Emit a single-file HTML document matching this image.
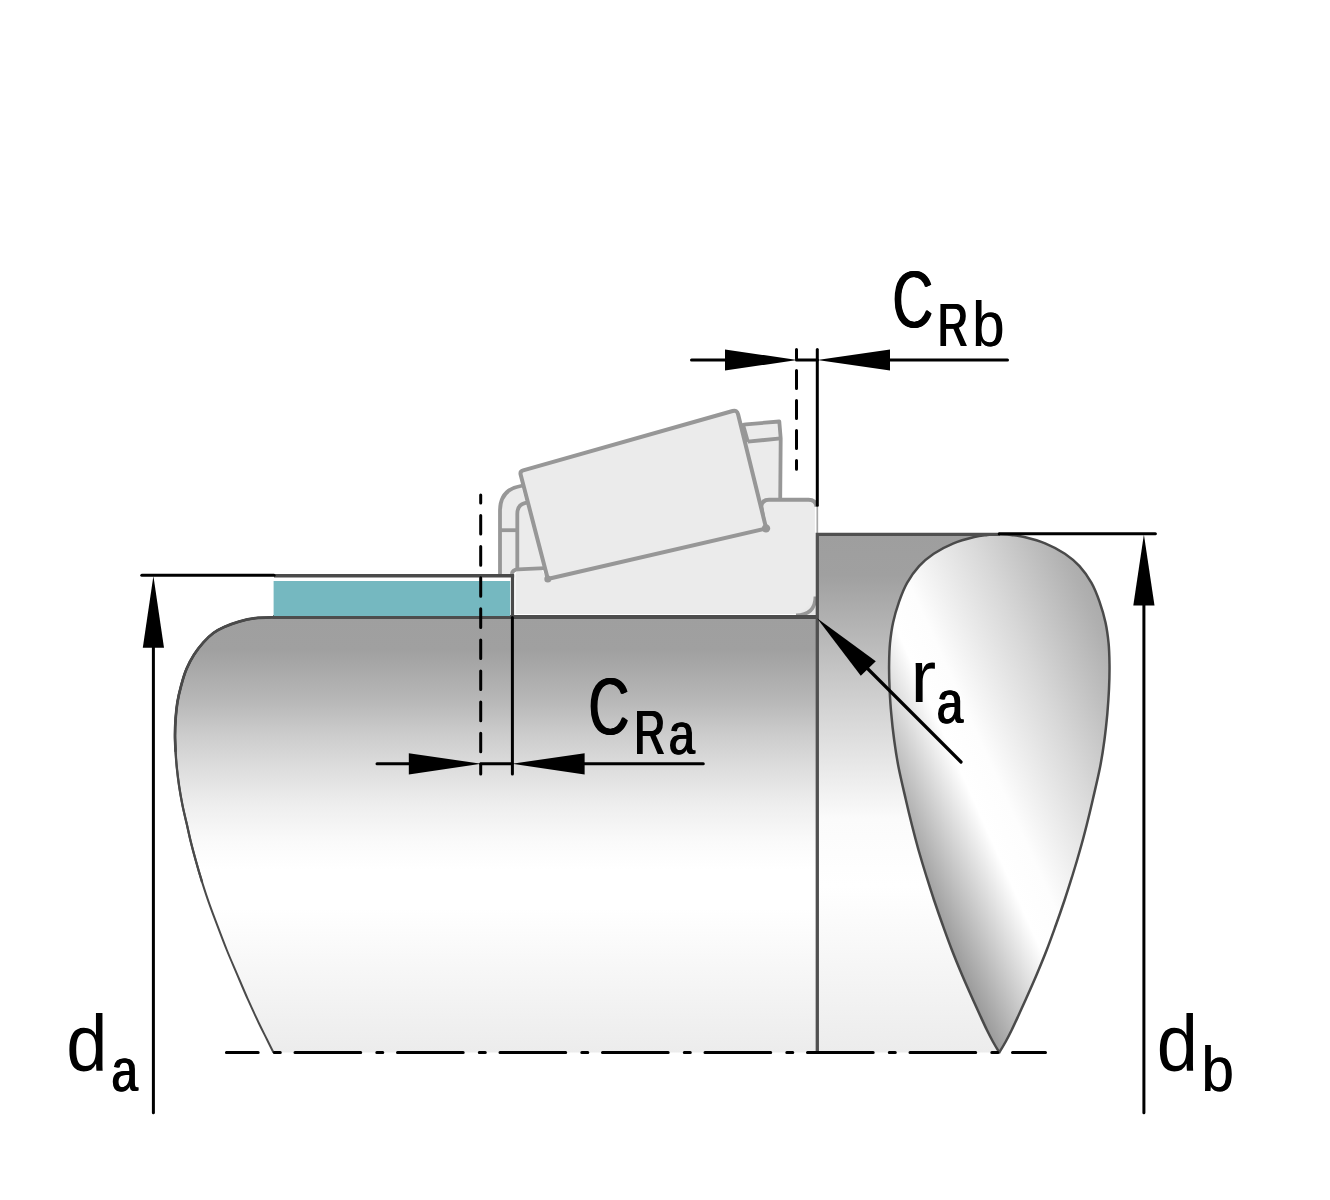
<!DOCTYPE html>
<html><head><meta charset="utf-8"><title>Bearing abutment dimensions</title>
<style>
html,body{margin:0;padding:0;background:#fff;}
body{width:1330px;height:1200px;overflow:hidden;font-family:"Liberation Sans",sans-serif;}
svg{display:block;}
text{font-family:"Liberation Sans",sans-serif;fill:#000;}
</style></head><body>
<svg width="1330" height="1200" viewBox="0 0 1330 1200">
<defs>
<linearGradient id="gShaft" gradientUnits="userSpaceOnUse" x1="0" y1="617" x2="0" y2="1052">
<stop offset="0" stop-color="#9f9f9f"/><stop offset="0.075" stop-color="#a0a0a0"/>
<stop offset="0.195" stop-color="#b8b8b8"/><stop offset="0.27" stop-color="#cccccc"/>
<stop offset="0.347" stop-color="#dddddd"/><stop offset="0.432" stop-color="#eeeeee"/>
<stop offset="0.517" stop-color="#fafafa"/><stop offset="0.58" stop-color="#ffffff"/>
<stop offset="0.67" stop-color="#ffffff"/><stop offset="1" stop-color="#ececec"/>
</linearGradient>
<linearGradient id="gShoulder" gradientUnits="userSpaceOnUse" x1="0" y1="534" x2="0" y2="1052">
<stop offset="0" stop-color="#9e9e9e"/><stop offset="0.08" stop-color="#a0a0a0"/>
<stop offset="0.34" stop-color="#d4d4d4"/><stop offset="0.55" stop-color="#fbfbfb"/>
<stop offset="0.68" stop-color="#ffffff"/><stop offset="1" stop-color="#ececec"/>
</linearGradient>
<linearGradient id="gTear" gradientUnits="userSpaceOnUse" x1="900" y1="855.6" x2="1173.6" y2="732.6">
<stop offset="0.03" stop-color="#9c9c9c"/>
<stop offset="0.30" stop-color="#ffffff"/>
<stop offset="0.40" stop-color="#fdfdfd"/>
<stop offset="0.66" stop-color="#d8d8d8"/>
<stop offset="0.913" stop-color="#b0b0b0"/>
<stop offset="1" stop-color="#a6a6a6"/>
</linearGradient>
</defs>
<rect width="1330" height="1200" fill="#fff"/>

<!-- shaft body -->
<path d="M274.0,617.3 C270.9,617.4 261.1,617.5 255.3,618.2 C249.5,618.9 244.2,620.1 239.0,621.6 C233.8,623.1 228.5,625.1 224.2,627.0 C219.9,628.9 216.9,630.4 213.4,633.0 C209.9,635.6 206.6,638.8 203.4,642.4 C200.2,646.0 196.8,650.3 194.0,654.7 C191.2,659.1 188.7,663.8 186.5,669.0 C184.3,674.2 182.6,680.2 181.1,685.8 C179.6,691.3 178.3,696.8 177.4,702.3 C176.5,707.8 176.0,713.3 175.6,718.8 C175.2,724.3 175.0,729.8 175.0,735.3 C175.0,740.8 175.3,746.3 175.6,751.8 C175.9,757.3 176.3,762.5 176.9,768.3 C177.5,774.1 178.3,780.5 179.2,786.6 C180.1,792.7 181.2,798.8 182.4,804.9 C183.6,811.0 185.2,817.3 186.6,823.3 C188.0,829.3 189.1,834.9 190.6,841.0 C192.1,847.1 193.8,853.4 195.7,860.2 C197.6,867.1 199.8,874.8 202.1,882.1 C204.4,889.4 206.8,896.8 209.4,904.1 C212.0,911.4 214.7,918.5 217.6,926.1 C220.5,933.8 223.6,942.0 226.8,950.0 C230.0,958.0 233.4,965.6 236.9,973.8 C240.4,982.0 244.2,991.2 247.9,999.4 C251.6,1007.6 255.7,1016.5 258.9,1023.2 C262.1,1029.9 264.7,1034.8 267.1,1039.7 C269.5,1044.6 272.4,1050.4 273.5,1052.5 L818,1052.5 L818,617 Z" fill="url(#gShaft)"/>
<!-- shoulder -->
<rect x="818" y="534" width="182" height="518.5" fill="url(#gShoulder)"/>
<!-- teardrop break section -->
<path d="M999.3,534.3 C997.3,534.4 991.5,534.5 987.3,535.0 C983.1,535.5 979.9,535.6 974.3,537.0 C968.7,538.4 960.3,540.5 953.5,543.3 C946.7,546.1 939.4,549.9 933.7,553.7 C928.0,557.5 923.5,561.3 919.1,566.2 C914.7,571.1 910.4,577.0 907.1,582.9 C903.8,588.8 901.4,595.1 899.1,601.7 C896.8,608.3 894.6,615.6 893.1,622.5 C891.6,629.4 890.7,636.3 890.0,643.3 C889.3,650.2 889.2,656.6 889.1,664.2 C889.0,671.9 889.2,680.9 889.6,689.2 C890.0,697.5 890.5,705.8 891.3,714.2 C892.0,722.6 892.9,730.6 894.1,739.5 C895.3,748.4 896.6,757.4 898.6,767.5 C900.6,777.6 903.7,790.4 905.9,800.0 C908.1,809.6 909.8,816.7 911.9,825.0 C914.0,833.3 916.2,841.7 918.5,850.0 C920.9,858.3 923.4,866.7 926.0,875.0 C928.6,883.3 931.2,891.7 934.0,900.0 C936.8,908.3 939.7,916.7 942.7,925.0 C945.7,933.3 948.7,941.7 951.9,950.0 C955.1,958.3 958.6,966.7 962.1,975.0 C965.6,983.3 970.1,993.3 973.1,1000.0 C976.1,1006.7 977.6,1010.0 979.9,1015.0 C982.2,1020.0 984.7,1025.5 986.9,1030.0 C989.1,1034.5 991.0,1038.2 993.1,1042.0 C995.2,1045.8 998.3,1050.8 999.3,1052.5 L999.3,1052.5 C1000.3,1050.8 1003.4,1045.8 1005.5,1042.0 C1007.6,1038.2 1009.5,1034.5 1011.7,1030.0 C1013.9,1025.5 1016.4,1020.0 1018.7,1015.0 C1021.0,1010.0 1022.5,1006.7 1025.5,1000.0 C1028.5,993.3 1033.0,983.3 1036.5,975.0 C1040.0,966.7 1043.5,958.3 1046.7,950.0 C1049.9,941.7 1052.9,933.3 1055.9,925.0 C1058.9,916.7 1061.8,908.3 1064.6,900.0 C1067.4,891.7 1070.0,883.3 1072.6,875.0 C1075.2,866.7 1077.7,858.3 1080.0,850.0 C1082.4,841.7 1084.6,833.3 1086.7,825.0 C1088.8,816.7 1090.5,809.6 1092.7,800.0 C1094.9,790.4 1098.0,777.6 1100.0,767.5 C1102.0,757.4 1103.3,748.4 1104.5,739.5 C1105.7,730.6 1106.5,722.6 1107.3,714.2 C1108.0,705.8 1108.6,697.5 1109.0,689.2 C1109.4,680.9 1109.6,671.9 1109.5,664.2 C1109.4,656.6 1109.3,650.2 1108.6,643.3 C1107.9,636.3 1107.0,629.4 1105.5,622.5 C1104.0,615.6 1101.8,608.3 1099.5,601.7 C1097.2,595.1 1094.8,588.8 1091.5,582.9 C1088.2,577.0 1083.9,571.1 1079.5,566.2 C1075.1,561.3 1070.6,557.5 1064.9,553.7 C1059.2,549.9 1051.9,546.1 1045.1,543.3 C1038.3,540.5 1029.9,538.4 1024.3,537.0 C1018.7,535.6 1015.5,535.5 1011.3,535.0 C1007.1,534.5 1001.3,534.4 999.3,534.3 Z" fill="url(#gTear)" stroke="#4a4a4a" stroke-width="2.5" stroke-linejoin="round"/>
<!-- bearing: cage -->
<path d="M500.2,575 V511 Q500.2,489 521,486 L548,578 L513,576 Z" fill="#ebebeb"/>
<path d="M743,424.5 L779.3,421.5 L780.6,438.3 L780.2,505 H760 Z" fill="#ebebeb"/>
<g fill="none" stroke="#979797" stroke-width="3.8" stroke-linejoin="round" stroke-linecap="butt">
<path d="M500,574.5 V511 Q500,489.5 520.7,486 L523,485.6"/>
<path d="M517.3,574.5 V514 Q517.3,505 524.7,503.1 L527,502.6"/>
<path d="M500,530.2 H517.3"/>
<path d="M741.5,426 Q742.5,424.6 746,424.3 L779.3,421.5 L780.7,438.3 L780.2,500"/>
<path d="M747.7,441.7 L780.7,438.3"/>
<path d="M742.8,425.5 L747.5,442" stroke-width="4.6"/>
</g>
<!-- inner ring -->
<path d="M514.8,614.6 V576 Q514.8,570 520,569.6 L541.5,568.3 L548,578.5 L766,528.5 L761.3,506 Q762.3,499.8 769,499.8 H808 Q815.6,499.8 815.6,507.5 V598 Q815.6,614.6 797,614.6 Z" fill="#ebebeb" stroke="#ffffff" stroke-width="1.4"/>
<path d="M815.6,600 V614.8 H798 Z" fill="#e9e9e9"/>
<g fill="none" stroke="#979797" stroke-linejoin="round" stroke-linecap="butt">
<path d="M511.8,574 Q512.3,569.8 518,569.4 L545,568.2" stroke-width="3.7"/>
<path d="M763.5,520 L761.3,506 Q762.3,499.8 769,499.8 H808.5 Q815.8,499.8 816.6,506.7" stroke-width="4"/>
<path d="M815.4,596.5 Q815.4,615 796,615.3" stroke-width="3.6"/>
<path d="M817.3,506 V533" stroke="#a8a8a8" stroke-width="1.7"/>
</g>
<!-- roller -->
<path d="M520.68,474.69 Q519.80,471.30 523.17,470.35 L732.67,411.03 Q737.00,409.80 738.07,414.17 L765.72,526.56 Q766.20,528.50 764.25,528.95 L549.75,578.55 Q547.80,579.00 547.30,577.06 Z" fill="#ebebeb" stroke="#979797" stroke-width="4" stroke-linejoin="round"/>
<g fill="#979797"><circle cx="547.8" cy="579" r="3.5"/><circle cx="766" cy="528.4" r="4.2"/></g>

<!-- outlines -->
<path d="M274.0,617.3 C270.9,617.4 261.1,617.5 255.3,618.2 C249.5,618.9 244.2,620.1 239.0,621.6 C233.8,623.1 228.5,625.1 224.2,627.0 C219.9,628.9 216.9,630.4 213.4,633.0 C209.9,635.6 206.6,638.8 203.4,642.4 C200.2,646.0 196.8,650.3 194.0,654.7 C191.2,659.1 188.7,663.8 186.5,669.0 C184.3,674.2 182.6,680.2 181.1,685.8 C179.6,691.3 178.3,696.8 177.4,702.3 C176.5,707.8 176.0,713.3 175.6,718.8 C175.2,724.3 175.0,729.8 175.0,735.3 C175.0,740.8 175.3,746.3 175.6,751.8 C175.9,757.3 176.3,762.5 176.9,768.3 C177.5,774.1 178.3,780.5 179.2,786.6 C180.1,792.7 181.2,798.8 182.4,804.9 C183.6,811.0 185.2,817.3 186.6,823.3 C188.0,829.3 189.1,834.9 190.6,841.0 C192.1,847.1 193.8,853.4 195.7,860.2 C197.6,867.1 199.8,874.8 202.1,882.1 C204.4,889.4 206.8,896.8 209.4,904.1 C212.0,911.4 214.7,918.5 217.6,926.1 C220.5,933.8 223.6,942.0 226.8,950.0 C230.0,958.0 233.4,965.6 236.9,973.8 C240.4,982.0 244.2,991.2 247.9,999.4 C251.6,1007.6 255.7,1016.5 258.9,1023.2 C262.1,1029.9 264.7,1034.8 267.1,1039.7 C269.5,1044.6 272.4,1050.4 273.5,1052.5" fill="none" stroke="#4a4a4a" stroke-width="2"/>
<path d="M274.0,617.3 C270.9,617.4 261.1,617.5 255.3,618.2 C249.5,618.9 244.2,620.1 239.0,621.6 C233.8,623.1 228.5,625.1 224.2,627.0 C219.9,628.9 216.9,630.4 213.4,633.0 C209.9,635.6 206.6,638.8 203.4,642.4 C200.2,646.0 196.8,650.3 194.0,654.7 C191.2,659.1 188.7,663.8 186.5,669.0 C184.3,674.2 182.6,680.2 181.1,685.8 C179.6,691.3 178.3,696.8 177.4,702.3 C176.5,707.8 176.0,713.3 175.6,718.8 C175.2,724.3 175.0,729.8 175.0,735.3 C175.0,740.8 175.3,746.3 175.6,751.8 C175.9,757.3 176.3,762.5 176.9,768.3 C177.5,774.1 178.3,780.5 179.2,786.6 C180.1,792.7 181.2,798.8 182.4,804.9 C183.6,811.0 185.2,817.3 186.6,823.3 C188.0,829.3 189.1,834.9 190.6,841.0 C192.1,847.1 193.8,853.4 195.7,860.2 C197.6,867.1 201.0,878.5 202.1,882.1" fill="none" stroke="#4a4a4a" stroke-width="2.3"/>
<path d="M274.0,617.3 C270.9,617.4 261.1,617.5 255.3,618.2 C249.5,618.9 244.2,620.1 239.0,621.6 C233.8,623.1 228.5,625.1 224.2,627.0 C219.9,628.9 216.9,630.4 213.4,633.0 C209.9,635.6 206.6,638.8 203.4,642.4 C200.2,646.0 196.8,650.3 194.0,654.7 C191.2,659.1 188.7,663.8 186.5,669.0 C184.3,674.2 182.6,680.2 181.1,685.8 C179.6,691.3 178.3,696.8 177.4,702.3 C176.5,707.8 176.0,713.3 175.6,718.8 C175.2,724.3 175.0,729.8 175.0,735.3 C175.0,740.8 175.5,749.0 175.6,751.8" fill="none" stroke="#4a4a4a" stroke-width="2.7"/>
<path d="M273,617 H818" fill="none" stroke="#4d4d4d" stroke-width="3.8"/>
<path d="M817.3,1052.5 V534.3 H1000" fill="none" stroke="#505050" stroke-width="3.3" stroke-linejoin="miter"/>

<!-- spacer (teal) -->
<rect x="273.6" y="581" width="236.6" height="35" fill="#75b8c0"/>
<path d="M274,575.7 H514.1" fill="none" stroke="#4a4a4a" stroke-width="3.6"/>
<path d="M512.5,575 V617" fill="none" stroke="#4a4a4a" stroke-width="3.2"/>

<!-- centre line -->
<path d="M226.4,1052.5 H1045.5" stroke="#000" stroke-width="3" stroke-linecap="round" stroke-dasharray="65.7,16.1,6,14.7" stroke-dashoffset="33.9" fill="none"/>

<!-- dimension lines -->
<g stroke="#000" stroke-width="3" fill="none" stroke-linecap="round">
<path d="M141.8,575.3 H274"/>
<path d="M153.4,640 V1112.7"/>
<path d="M999.2,533.8 H1155.4"/>
<path d="M1143.9,600 V1112.7"/>
<path d="M691.5,360 H730 M796.5,360 H817.5 M885,360 H1007.5"/>
<path d="M817.3,349.5 V505.2"/>
<path d="M796.5,349.5 V469.3" stroke-dasharray="18,12" stroke-dashoffset="8.9"/>
<path d="M377,763.8 H415 M480.7,763.8 H512.1 M580,763.8 H703.3"/>
<path d="M512.4,617.5 V774"/>
<path d="M480.7,494.9 V774" stroke-dasharray="18.6,12.5" stroke-dashoffset="10.5"/>
<path d="M961,762 L866,667" stroke-width="3.2"/>
</g>
<g fill="#000">
<path d="M153.4,576 L164,647.7 H142.8 Z"/>
<path d="M1143.9,534.6 L1154.5,605.6 H1133.3 Z"/>
<path d="M797.2,360 L725,349.4 V370.6 Z"/>
<path d="M817.3,360 L890,349.4 V370.6 Z"/>
<path d="M481.2,763.8 L408.8,753.2 V774.4 Z"/>
<path d="M512,763.8 L584.6,753.2 V774.4 Z"/>
<path d="M817.1,618.3 L875.8,661.3 L860.8,675.8 Z"/>
</g>

<!-- labels -->
<text transform="matrix(0.5648,0,0,0.7881,891.68,326.78)" font-size="100">C</text>
<text transform="matrix(0.5648,0,0,0.7881,892.40,326.78)" font-size="100">C</text>
<text transform="matrix(0.5648,0,0,0.7881,893.11,326.78)" font-size="100">C</text>
<text transform="matrix(0.4172,0,0,0.6163,936.93,346.45)" font-size="100">R</text>
<text transform="matrix(0.4172,0,0,0.6163,937.89,346.45)" font-size="100">R</text>
<text transform="matrix(0.4172,0,0,0.6163,938.86,346.45)" font-size="100">R</text>
<text transform="matrix(0.5806,0,0,0.6318,971.91,346.43)" font-size="100">b</text>
<text transform="matrix(0.5806,0,0,0.6318,972.40,346.43)" font-size="100">b</text>
<text transform="matrix(0.5648,0,0,0.7895,587.78,734.18)" font-size="100">C</text>
<text transform="matrix(0.5648,0,0,0.7895,588.50,734.18)" font-size="100">C</text>
<text transform="matrix(0.5648,0,0,0.7895,589.21,734.18)" font-size="100">C</text>
<text transform="matrix(0.4271,0,0,0.6221,633.45,754.15)" font-size="100">R</text>
<text transform="matrix(0.4271,0,0,0.6221,634.37,754.15)" font-size="100">R</text>
<text transform="matrix(0.4271,0,0,0.6221,635.29,754.15)" font-size="100">R</text>
<text transform="matrix(0.4698,0,0,0.5987,668.05,754.37)" font-size="100">a</text>
<text transform="matrix(0.4698,0,0,0.5987,668.79,754.37)" font-size="100">a</text>
<text transform="matrix(0.4698,0,0,0.5987,669.52,754.37)" font-size="100">a</text>
<text transform="matrix(0.7720,0,0,0.7490,910.52,702.25)" font-size="100">r</text>
<text transform="matrix(0.4745,0,0,0.6151,936.03,722.75)" font-size="100">a</text>
<text transform="matrix(0.4745,0,0,0.6151,936.75,722.75)" font-size="100">a</text>
<text transform="matrix(0.4745,0,0,0.6151,937.46,722.75)" font-size="100">a</text>
<text transform="matrix(0.7405,0,0,0.7925,66.14,1070.98)" font-size="100">d</text>
<text transform="matrix(0.4745,0,0,0.6024,110.73,1091.16)" font-size="100">a</text>
<text transform="matrix(0.4745,0,0,0.6024,111.45,1091.16)" font-size="100">a</text>
<text transform="matrix(0.4745,0,0,0.6024,112.16,1091.16)" font-size="100">a</text>
<text transform="matrix(0.7405,0,0,0.7925,1156.74,1070.98)" font-size="100">d</text>
<text transform="matrix(0.5833,0,0,0.6318,1201.29,1090.83)" font-size="100">b</text>
<text transform="matrix(0.5833,0,0,0.6318,1201.76,1090.83)" font-size="100">b</text>
</svg>
</body></html>
